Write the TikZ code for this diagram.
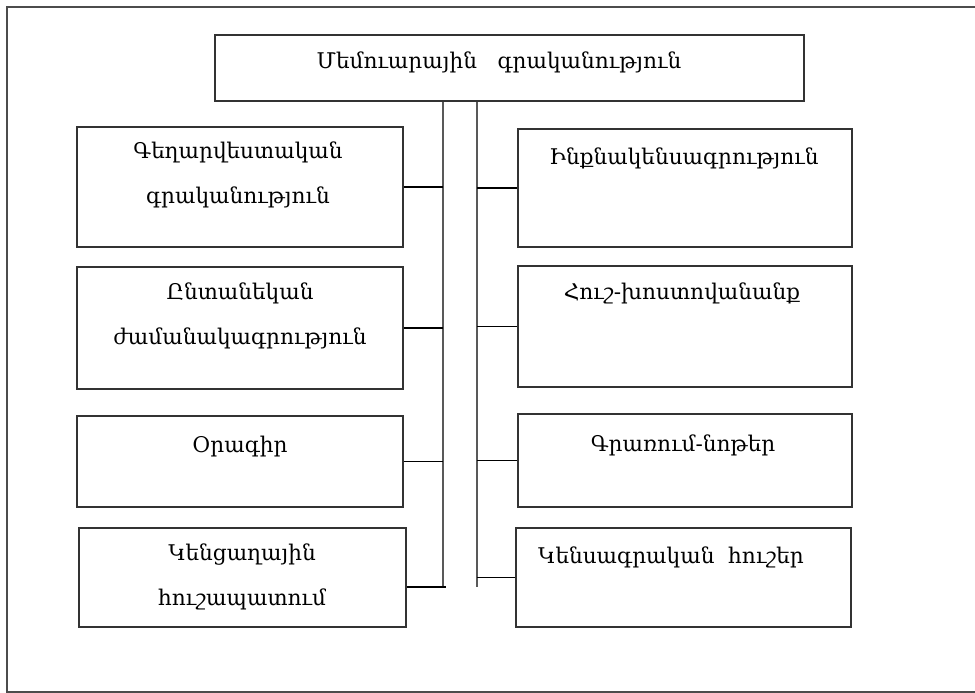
\documentclass[tikz,border=0pt]{standalone}
\usepackage{fontspec}
\setmainfont{DejaVu Serif}
\usepackage{tikz}
\usetikzlibrary{positioning}

\begin{document}
\begin{tikzpicture}[x=0.02cm, y=-0.02cm,
    box/.style={draw=black!80, line width=1pt, inner sep=0pt},
    txt/.style={align=center, inner sep=0pt, font=\fontsize{12.3}{25.5}\selectfont},
    bus/.style={draw=black!65, line width=1pt},
    link/.style={draw=black, line width=0.8pt}]
    \useasboundingbox (0,0) rectangle (975,693);
    % frame
    \draw[black!70, line width=1.2pt] (975,7) -- (7,7) -- (7,692) -- (975,692);

    % top
    \node[box, minimum width=11.78cm, minimum height=1.32cm] (top) at (509.5,68) {};
    \node[txt] (topt) at (499,62) {Մեմուարային \ \ գրականություն};

    % left column
    \node[box, minimum width=6.52cm, minimum height=2.4cm] (l1) at (240,187) {};
    \node[box, minimum width=6.52cm, minimum height=2.44cm] (l2) at (240,328) {};
    \node[box, minimum width=6.52cm, minimum height=1.82cm] (l3) at (240,461.5) {};
    \node[box, minimum width=6.54cm, minimum height=1.98cm] (l4) at (242.5,577.5) {};
    \node[txt] (l1t) at (238,175) {Գեղարվեստական\\գրականություն};
    \node[txt] (l2t) at (240,316) {Ընտանեկան\\ժամանակագրություն};
    \node[txt] (l3t) at (240,447) {Օրագիր};
    \node[txt] (l4t) at (242,577) {Կենցաղային\\հուշապատում};

    % right column
    \node[box, minimum width=6.68cm, minimum height=2.36cm] (r1) at (685,188) {};
    \node[box, minimum width=6.68cm, minimum height=2.42cm] (r2) at (685,326.5) {};
    \node[box, minimum width=6.68cm, minimum height=1.86cm] (r3) at (685,460.5) {};
    \node[box, minimum width=6.7cm, minimum height=1.98cm] (r4) at (683.5,577.5) {};
    \node[txt] (r1t) at (684,158) {Ինքնակենսագրություն};
    \node[txt] (r2t) at (682,293) {Հուշ-խոստովանանք};
    \node[txt] (r3t) at (683,445) {Գրառում-նոթեր};
    \node[txt] (r4t) at (671,557) {Կենսագրական \ հուշեր};

    % buses
    \coordinate (lbus) at (443,587);
    \coordinate (rbus) at (477,587);
    \draw[bus] (top.south -| lbus) -- (lbus);
    \draw[bus] (top.south -| rbus) -- (rbus);
    \foreach \i in {1,2,3} {
        \draw[link] (l\i.east) -- (l\i.east -| lbus);
        \draw[link] (r\i.west) -- (r\i.west -| rbus);
    }
    \draw[link] (l4.east |- lbus) -- ([xshift=0.06cm]lbus);
    \draw[link] (r4.west) -- (r4.west -| rbus);
\end{tikzpicture}
\end{document}
